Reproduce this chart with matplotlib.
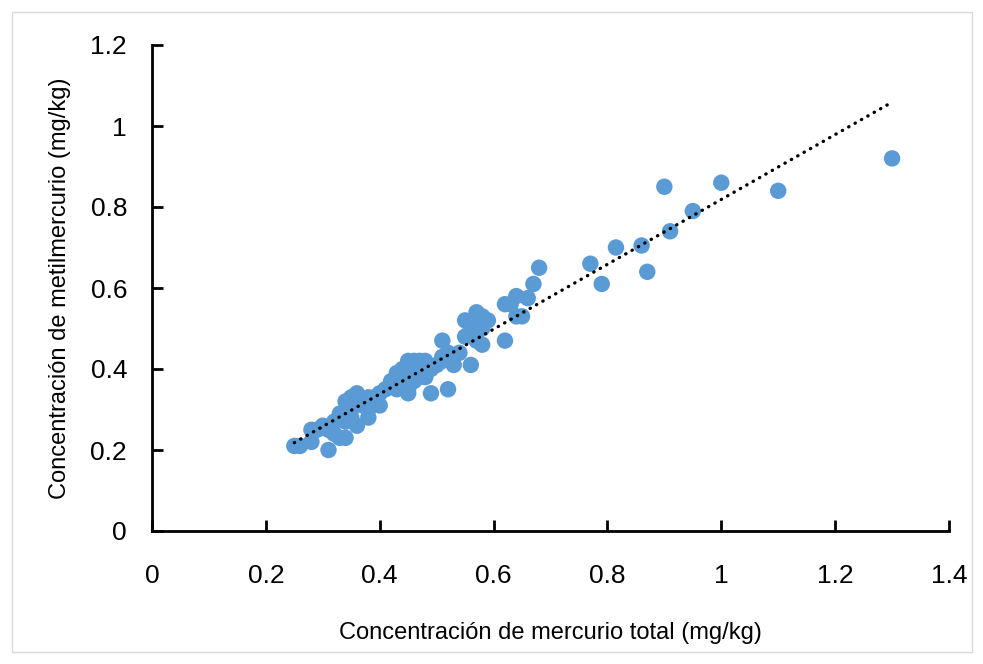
import numpy as np
import matplotlib
matplotlib.use("Agg")
import matplotlib.pyplot as plt
from matplotlib.ticker import FuncFormatter
from matplotlib.patches import Rectangle

plt.rcParams['font.family'] = ['Liberation Sans', 'DejaVu Sans']

# Total mercury (mg/kg)
hg_total = [0.25, 0.26, 0.28, 0.28, 0.29, 0.30, 0.31, 0.31, 0.32, 0.32,
            0.33, 0.33, 0.34, 0.34, 0.34, 0.35, 0.35, 0.35, 0.36, 0.36,
            0.36, 0.37, 0.38, 0.38, 0.38, 0.39, 0.39, 0.40, 0.40, 0.41,
            0.42, 0.42, 0.43, 0.43, 0.43, 0.44, 0.44, 0.44, 0.45, 0.45,
            0.45, 0.45, 0.46, 0.46, 0.46, 0.47, 0.47, 0.47, 0.48, 0.48,
            0.48, 0.49, 0.49, 0.50, 0.51, 0.51, 0.51, 0.52, 0.52, 0.53,
            0.53, 0.54, 0.55, 0.55, 0.56, 0.56, 0.57, 0.57, 0.57, 0.58,
            0.58, 0.58, 0.59, 0.62, 0.62, 0.63, 0.64, 0.64, 0.65, 0.66,
            0.67, 0.68, 0.77, 0.79, 0.815, 0.86, 0.87, 0.90, 0.91, 0.95,
            1.00, 1.10, 1.30]
# Methylmercury (mg/kg)
hg_methyl = [0.21, 0.21, 0.25, 0.22, 0.25, 0.26, 0.20, 0.25, 0.24, 0.27,
             0.29, 0.23, 0.23, 0.32, 0.27, 0.33, 0.30, 0.28, 0.34, 0.26,
             0.32, 0.31, 0.28, 0.30, 0.33, 0.33, 0.32, 0.31, 0.34, 0.35,
             0.37, 0.36, 0.38, 0.39, 0.35, 0.40, 0.36, 0.38, 0.41, 0.42,
             0.35, 0.34, 0.42, 0.39, 0.37, 0.40, 0.42, 0.38, 0.42, 0.39,
             0.38, 0.34, 0.40, 0.41, 0.47, 0.43, 0.42, 0.44, 0.35, 0.41,
             0.43, 0.44, 0.48, 0.52, 0.41, 0.50, 0.54, 0.47, 0.52, 0.46,
             0.53, 0.50, 0.52, 0.47, 0.56, 0.56, 0.58, 0.53, 0.53, 0.575,
             0.61, 0.65, 0.66, 0.61, 0.70, 0.705, 0.64, 0.85, 0.74, 0.79,
             0.86, 0.84, 0.92]

x_ticks = [0, 0.2, 0.4, 0.6, 0.8, 1.0, 1.2, 1.4]
y_ticks = [0, 0.2, 0.4, 0.6, 0.8, 1.0, 1.2]

fig = plt.figure(figsize=(9.83, 6.64), dpi=100)
ax = fig.add_axes([152/983, 1-531/664, (949-152)/983, (531-45)/664])

x = np.array(hg_total)
y = np.array(hg_methyl)
ax.scatter(x, y, s=140, color='#5B9BD5', edgecolors='none', zorder=2)

m, b = np.polyfit(x, y, 1)
xl = np.array([x.min(), x.max()])
ax.plot(xl, m*xl + b, color='black', lw=2.4, linestyle=(0, (0.1, 2.1)),
        dash_capstyle='round', zorder=3)

ax.set_xlim(0, 1.4)
ax.set_ylim(0, 1.2)
ax.set_xticks(x_ticks)
ax.set_yticks(y_ticks)
fmt = FuncFormatter(lambda v, p: f'{v:g}')
ax.xaxis.set_major_formatter(fmt)
ax.yaxis.set_major_formatter(fmt)

for s in ['top', 'right']:
    ax.spines[s].set_visible(False)
for s in ['left', 'bottom']:
    ax.spines[s].set_linewidth(2.0)
    ax.spines[s].set_color('black')
ax.tick_params(axis='both', direction='in', length=8, width=2.0,
               labelsize=19, colors='black')
ax.tick_params(axis='x', pad=24)
ax.tick_params(axis='y', pad=18)

ax.set_xlabel('Concentración de mercurio total (mg/kg)', fontsize=17, labelpad=24)
ax.set_ylabel('Concentración de metilmercurio (mg/kg)', fontsize=17, labelpad=14)

fig.patches.append(Rectangle((12/983, 12/664), (972-12)/983, (652-12)/664,
                             transform=fig.transFigure, fill=False,
                             edgecolor='#D9D9D9', lw=1.0))

fig.savefig('out.png', dpi=100)
